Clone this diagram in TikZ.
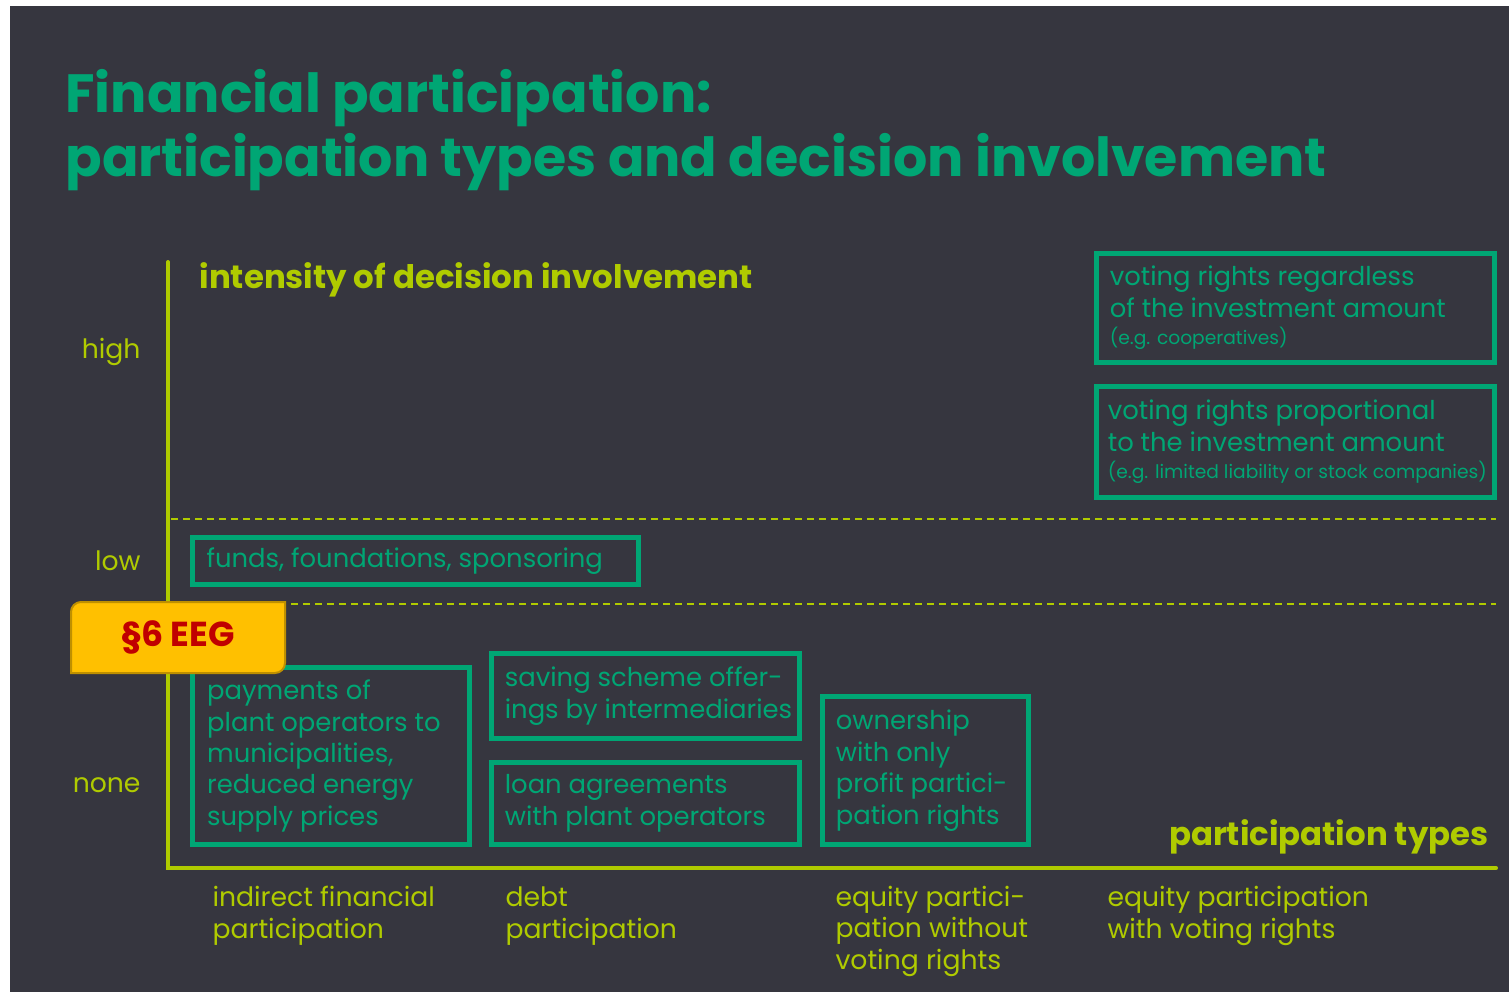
\documentclass[tikz,border=0pt]{standalone}
\usepackage{fontspec}
\setmainfont{Poppins}

\definecolor{bgdark}{RGB}{54,54,63}
\definecolor{tealgreen}{RGB}{0,166,116}
\definecolor{lime}{RGB}{176,203,0}
\definecolor{eegfill}{RGB}{255,192,0}
\definecolor{eegline}{RGB}{191,144,0}
\definecolor{eegred}{RGB}{192,0,0}

\tikzset{every picture/.style={line width=0.75pt}}
\tikzset{
  title/.style={text=tealgreen, font=\bfseries\fontsize{40.4}{48}\selectfont, inner sep=0pt, anchor=base west},
  axis/.style={draw=lime, line width=3pt, line cap=round},
  axistitle/.style={text=lime, font=\bfseries\fontsize{24.3}{30}\selectfont, inner sep=0pt},
  level/.style={text=lime, font=\fontsize{20}{24}\selectfont, inner sep=0pt, anchor=base east},
  typelabel/.style={text=lime, font=\fontsize{20}{23.6}\selectfont, align=left, inner sep=0pt, anchor=base west},
  separator/.style={draw=lime, line width=1.5pt, dash pattern=on 5.25pt off 3.75pt},
  typebox/.style={draw=tealgreen, line width=3.75pt, inner sep=0pt},
  boxtext/.style={text=tealgreen, font=\fontsize{19.4}{23.6}\selectfont, align=left, inner sep=0pt, anchor=west},
  eegbox/.style={fill=eegfill, draw=eegline, line width=1.5pt},
  eegtext/.style={text=eegred, font=\bfseries\fontsize{26}{30}\selectfont, inner sep=0pt}
}
\newcommand{\smallnote}{\fontsize{14}{16}\selectfont}

\begin{document}
\begin{tikzpicture}[x=0.75pt,y=0.75pt,yscale=-1,xscale=1]
%set diagram to the reference size
\useasboundingbox (0,0) rectangle (1509,992);

%Shape: Background
\fill[white] (0,0) rectangle (1509,992);
\fill[bgdark] (10,6) rectangle (1509,992);

% Title
\node[title] (title1) at (65,112) {Financial participation:};
\node[title] (title2) at (65,176) {participation types and decision involvement};

%Straight Lines: axes
\coordinate (ytop) at (168,262);
\coordinate (origin) at (168,868);
\coordinate (xend) at (1496,868);
\draw[axis] (ytop) -- (origin) -- (xend);

% Text Node: axis titles
\node[axistitle, anchor=base west] (ytitle) at (199,288) {intensity of decision involvement};
\node[axistitle, anchor=base east] (xtitle) at (1489,845) {participation types};

% Text Node: levels
\node[level] (high) at (141,358) {high};
\node[level] (low) at (141,570) {low};
\node[level] (none) at (141,792) {none};

%Straight Lines: dashed separators
\coordinate (sepA) at (171,519);
\coordinate (sepAend) at (1496,519);
\coordinate (sepB) at (171,604);
\coordinate (sepBend) at (1496,604);
\draw[separator] (sepA) -- (sepAend);
\draw[separator] (sepB) -- (sepBend);

%Shape: Rectangles with their texts
\node[typebox, minimum width=398*0.75pt, minimum height=109*0.75pt] (votefree) at (1295.5,308) {};
\node[boxtext] (votefreetext) at ([xshift=11.5pt]votefree.west) {voting rights regardless\\of the investment amount\\[-3pt]{\smallnote (e.g. cooperatives)}};

\node[typebox, minimum width=398*0.75pt, minimum height=111*0.75pt] (voteprop) at (1295.5,442) {};
\node[boxtext] (voteproptext) at ([xshift=10pt]voteprop.west) {voting rights proportional\\to the investment amount\\[-3pt]{\smallnote (e.g. limited liability or stock companies)}};

\node[typebox, minimum width=446*0.75pt, minimum height=47*0.75pt] (funds) at (415.5,561) {};
\node[boxtext] (fundstext) at ([xshift=12pt]funds.west) {funds, foundations, sponsoring};

\node[typebox, minimum width=277*0.75pt, minimum height=177*0.75pt] (payments) at (331,756) {};
\node[boxtext] (paymentstext) at ([xshift=12.5pt]payments.west) {payments of\\plant operators to\\municipalities,\\reduced energy\\supply prices};

\node[typebox, minimum width=308*0.75pt, minimum height=85*0.75pt] (saving) at (645.5,696) {};
\node[boxtext] (savingtext) at ([xshift=11.5pt]saving.west) {saving scheme offer-\\ings by intermediaries};

\node[typebox, minimum width=308*0.75pt, minimum height=82*0.75pt] (loan) at (645.5,803.5) {};
\node[boxtext] (loantext) at ([xshift=11.5pt]loan.west) {loan agreements\\with plant operators};

\node[typebox, minimum width=206*0.75pt, minimum height=148*0.75pt] (ownership) at (925.5,770.5) {};
\node[boxtext] (ownershiptext) at ([xshift=11.5pt]ownership.west) {ownership\\with only\\profit partici-\\pation rights};

% Text Node: participation types (base = last line)
\node[typelabel] (indirect) at (212,938) {indirect financial\\participation};
\node[typelabel] (debt) at (505,938) {debt\\participation};
\node[typelabel] (equityout) at (835,969) {equity partici-\\pation without\\voting rights};
\node[typelabel] (equityvote) at (1107,938) {equity participation\\with voting rights};

%Shape: EEG tab
\filldraw[eegbox] (71,673) -- (71,612) .. controls (71,606.5) and (75.5,602) .. (81,602) -- (285,602) -- (285,663) .. controls (285,668.5) and (280.5,673) .. (275,673) -- cycle;
\node[eegtext] (eeg) at (178,637.5) {§6 EEG};

\end{tikzpicture}
\end{document}
